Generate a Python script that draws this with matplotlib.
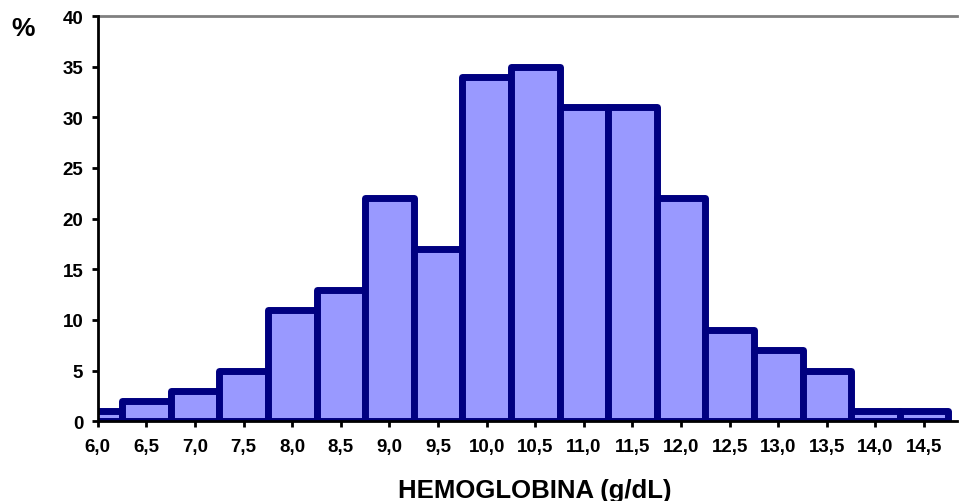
import matplotlib
matplotlib.use("Agg")
import matplotlib.pyplot as plt

# hemoglobin class centres (g/dL) and percentage of patients
hb_centres = [6.0, 6.5, 7.0, 7.5, 8.0, 8.5, 9.0, 9.5, 10.0, 10.5,
              11.0, 11.5, 12.0, 12.5, 13.0, 13.5, 14.0, 14.5]
percent = [1, 2, 3, 5, 11, 13, 22, 17, 34, 35,
           31, 31, 22, 9, 7, 5, 1, 1]
tick_labels = [f"{v:.1f}".replace(".", ",") for v in hb_centres]
y_ticks = [0, 5, 10, 15, 20, 25, 30, 35, 40]

plt.rcParams['font.family'] = ['Liberation Sans', 'DejaVu Sans']

fig = plt.figure(figsize=(9.59, 5.02), dpi=100, facecolor="white")
ax = fig.add_axes([0.102, 0.159, 0.896, 0.807])

ax.bar(hb_centres, percent, width=0.5, align='center',
       facecolor='#9999FF', edgecolor='#000080', linewidth=5,
       joinstyle='round', zorder=2)

ax.set_xlim(6.0, 14.84)
ax.set_ylim(0, 40)
ax.set_xticks(hb_centres)
ax.set_xticklabels(tick_labels)
ax.set_yticks(y_ticks)

for lab in ax.get_xticklabels() + ax.get_yticklabels():
    lab.set_fontweight('bold')
    lab.set_fontsize(13.5)

ax.tick_params(axis='both', direction='out', length=4.5, width=2, colors='black')
ax.tick_params(axis='x', pad=7.5)
ax.tick_params(axis='y', pad=6)

ax.spines['right'].set_visible(False)
ax.spines['top'].set_color('#808080')
ax.spines['top'].set_linewidth(2)
ax.spines['left'].set_linewidth(2)
ax.spines['bottom'].set_linewidth(2)
ax.spines['left'].set_zorder(3)
ax.spines['bottom'].set_zorder(3)

fig.text(23 / 959, 1 - 29 / 502, "%", fontsize=19, fontweight='bold',
         ha='center', va='center')
fig.text(535 / 959, 1 - 498 / 502, "HEMOGLOBINA (g/dL)", fontsize=18.5,
         fontweight='bold', ha='center', va='baseline')

fig.savefig("out.png", dpi=100, facecolor="white")
